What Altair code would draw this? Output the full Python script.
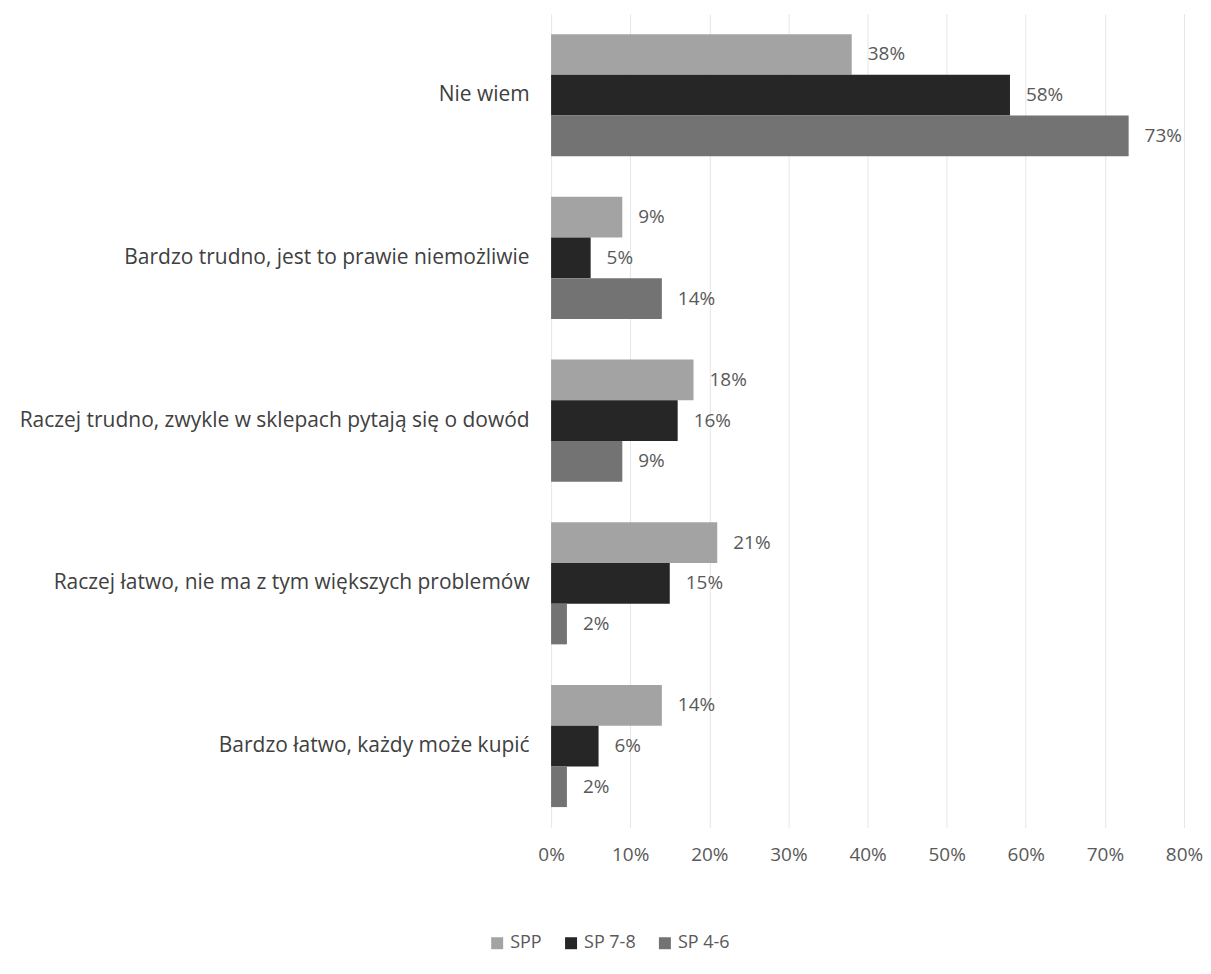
import altair as alt
import pandas as pd

categories = [
    "Nie wiem",
    "Bardzo trudno, jest to prawie niemożliwie",
    "Raczej trudno, zwykle w sklepach pytają się o dowód",
    "Raczej łatwo, nie ma z tym większych problemów",
    "Bardzo łatwo, każdy może kupić",
]
series = ["SPP", "SP 7-8", "SP 4-6"]
spp = [0.38, 0.09, 0.18, 0.21, 0.14]
sp78 = [0.58, 0.05, 0.16, 0.15, 0.06]
sp46 = [0.73, 0.14, 0.09, 0.02, 0.02]
colors = ["#a3a3a3", "#262626", "#737373"]

rows = []
for s, vals in zip(series, [spp, sp78, sp46]):
    for c, v in zip(categories, vals):
        rows.append({"cat": c, "series": s, "value": v})
df = pd.DataFrame(rows)

font = "Open Sans"

y = alt.Y("cat:N", sort=categories, title=None,
          scale=alt.Scale(paddingInner=0.25, paddingOuter=0.125),
          axis=alt.Axis(labelFontSize=21, labelColor="#404040", labelFont=font,
                        ticks=False, domain=False, labelPadding=22,
                        labelLimit=600, minExtent=544, maxExtent=544, grid=False))
yoff = alt.YOffset("series:N", sort=series)
x = alt.X("value:Q", title=None,
          scale=alt.Scale(domain=[0, 0.8], nice=False),
          axis=alt.Axis(format=".0%", values=[i / 10 for i in range(9)],
                        labelFontSize=19, labelColor="#595959", labelFont=font,
                        labelFlush=False,
                        ticks=False, domain=False, labelPadding=18,
                        grid=True, gridColor="#e6e6e6", gridWidth=1))

bars = alt.Chart(df).mark_bar().encode(
    y=y, yOffset=yoff, x=x,
    color=alt.Color("series:N", sort=series,
                    scale=alt.Scale(domain=series, range=colors),
                    legend=alt.Legend(title=None, orient="none", direction="horizontal",
                                      legendX=-63, legendY=922,
                                      symbolType="square", symbolSize=144,
                                      labelFontSize=18, labelColor="#595959",
                                      labelFont=font, columnPadding=20,
                                      symbolStrokeWidth=0)),
)

labels = alt.Chart(df).mark_text(align="left", baseline="middle", dx=16,
                                  fontSize=19, color="#595959", font=font).encode(
    y=y, yOffset=yoff, x=x,
    text=alt.Text("value:Q", format=".0%"),
)

chart = (bars + labels).properties(
    width=634, height=815,
    padding={"left": 0, "top": 5, "right": 0, "bottom": 5},
).configure_view(stroke=None)

chart.save("out.html", embed_options={"renderer": "svg", "actions": False})
